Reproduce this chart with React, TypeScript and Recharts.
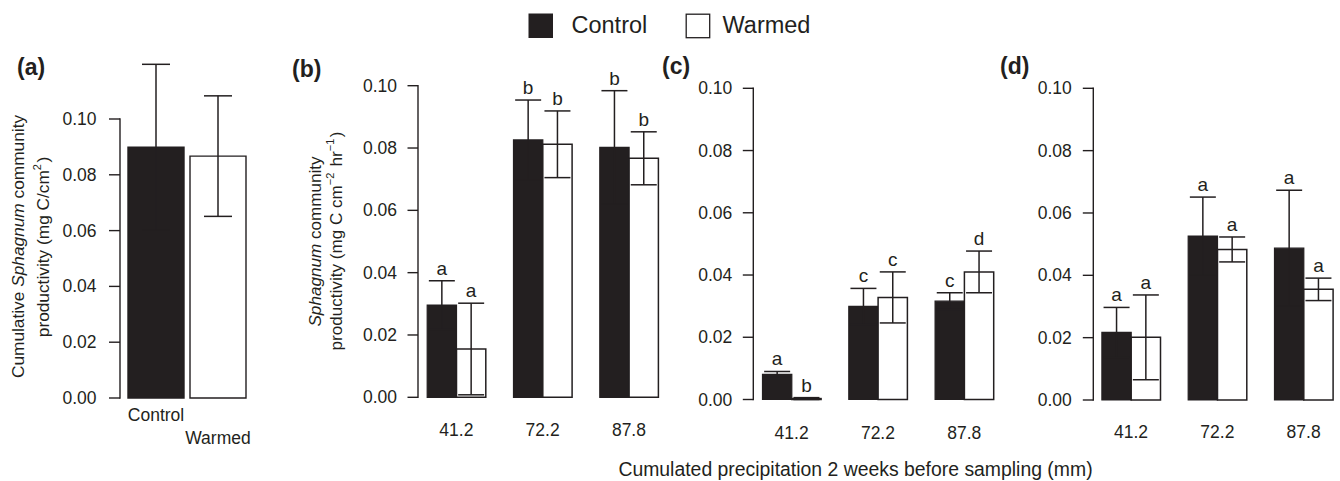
import React from 'react';
import { BarChart, Bar, XAxis, YAxis, ErrorBar, LabelList, Cell } from 'recharts';

const INK = '#231f20';
const FONT = '"Liberation Sans", Arial, Helvetica, sans-serif';

// (a) cumulative productivity over the season
const treatments = ['Control', 'Warmed'];
const cumulativeProd = [0.0899, 0.0867];
const cumulativeErr = [0.0297, 0.0216];

// (b)-(d) hourly productivity by cumulated precipitation (mm)
const precipitation = ['41.2', '72.2', '87.8'];

const controlB = [0.0296, 0.0826, 0.0802];
const controlErrB = [0.0078, 0.0128, 0.0182];
const warmedB = [0.0155, 0.0812, 0.0767];
const warmedErrB = [0.0147, 0.0107, 0.0085];
const controlLettersB = ['a', 'b', 'b'];
const warmedLettersB = ['a', 'b', 'b'];

const controlC = [0.0081, 0.0299, 0.0316];
const controlErrC = [0.0009, 0.0058, 0.0027];
const warmedC = [0.0003, 0.0328, 0.041];
const warmedErrC = [0.0003, 0.0082, 0.0067];
const controlLettersC = ['a', 'c', 'c'];
const warmedLettersC = ['b', 'c', 'd'];

const controlD = [0.0217, 0.0526, 0.0487];
const controlErrD = [0.008, 0.0125, 0.0186];
const warmedD = [0.0201, 0.0483, 0.0355];
const warmedErrD = [0.0136, 0.004, 0.0036];
const controlLettersD = ['a', 'a', 'a'];
const warmedLettersD = ['a', 'a', 'a'];

const yTicks = [0, 0.02, 0.04, 0.06, 0.08, 0.1];

type PrecipRow = {
  precip: string;
  control: number;
  controlErr: number;
  controlLetter: string;
  warmed: number;
  warmedErr: number;
  warmedLetter: string;
};

function buildRows(
  control: number[],
  controlErr: number[],
  warmed: number[],
  warmedErr: number[],
  controlLetters: string[],
  warmedLetters: string[]
): PrecipRow[] {
  return precipitation.map((p, i) => ({
    precip: p,
    control: control[i],
    controlErr: controlErr[i],
    controlLetter: controlLetters[i],
    warmed: warmed[i],
    warmedErr: warmedErr[i],
    warmedLetter: warmedLetters[i]
  }));
}

const rowsB = buildRows(controlB, controlErrB, warmedB, warmedErrB, controlLettersB, warmedLettersB);
const rowsC = buildRows(controlC, controlErrC, warmedC, warmedErrC, controlLettersC, warmedLettersC);
const rowsD = buildRows(controlD, controlErrD, warmedD, warmedErrD, controlLettersD, warmedLettersD);

const cumulativeRows = treatments.map((t, i) => ({ treatment: t, value: cumulativeProd[i], err: cumulativeErr[i] }));

// layout
const CHART_W = 1360;
const CHART_H = 481;
const Y_AXIS_W = 60;
const X_AXIS_H = 30;
const FS = 17.5;
const LETTER_FS = 19;

type Frame = {
  top: number;
  bottom: number;
  left: number;
  band: number;
  yMax: number;
  axisOffset: number;
  tickLen: number;
  labelGap: number;
  tickDy: number;
};

const frameA: Frame = { top: 63.2, bottom: 398, left: 125, band: 62, yMax: 0.12, axisOffset: -5, tickLen: 11, labelGap: 12.5, tickDy: 0 };
const frameB: Frame = { top: 85.7, bottom: 397.3, left: 413.2, band: 86.3, yMax: 0.1, axisOffset: 4.8, tickLen: 10.5, labelGap: 10.5, tickDy: 33 };
const frameC: Frame = { top: 88.3, bottom: 399.5, left: 748.5, band: 86.3, yMax: 0.1, axisOffset: 4.8, tickLen: 10.5, labelGap: 10.5, tickDy: 33.5 };
const frameD: Frame = { top: 88.3, bottom: 400, left: 1087.9, band: 86.3, yMax: 0.1, axisOffset: 5.4, tickLen: 10.5, labelGap: 11, tickDy: 32 };

function margins(frame: Frame, n: number) {
  return {
    top: frame.top,
    bottom: CHART_H - frame.bottom - X_AXIS_H,
    left: frame.left - Y_AXIS_W,
    right: CHART_W - frame.left - frame.band * n
  };
}

// y axis drawn by hand so the line stops at 0.10 and sits off the band edge
function yTick(frame: Frame) {
  const span = (frame.bottom - frame.top) * (yTicks[yTicks.length - 1] / frame.yMax);
  return (props: any) => {
    const { x, y, payload } = props;
    const ax = x + frame.axisOffset;
    return (
      <g>
        <line x1={ax - frame.tickLen} x2={ax} y1={y} y2={y} stroke={INK} strokeWidth={1.4} />
        {payload.value === 0 && <line x1={ax} x2={ax} y1={y + 0.7} y2={y - span - 0.7} stroke={INK} strokeWidth={1.4} />}
        <text
          x={ax - frame.tickLen - frame.labelGap}
          y={y}
          textAnchor="end"
          dominantBaseline="central"
          fontFamily={FONT}
          fontSize={FS}
          fill={INK}
        >
          {Number(payload.value).toFixed(2)}
        </text>
      </g>
    );
  };
}

function precipTick(dy: number) {
  return (props: any) => (
    <text x={props.x} y={props.y + dy} textAnchor="middle" dominantBaseline="central" fontFamily={FONT} fontSize={FS} fill={INK}>
      {props.payload.value}
    </text>
  );
}

function treatmentTick(props: any) {
  const dy = props.index === 0 ? 17 : 40;
  return (
    <text x={props.x} y={props.y + dy} textAnchor="middle" dominantBaseline="central" fontFamily={FONT} fontSize={FS} fill={INK}>
      {props.payload.value}
    </text>
  );
}

function letterContent(rows: PrecipRow[], valueKey: 'control' | 'warmed', errKey: 'controlErr' | 'warmedErr') {
  return (props: any) => {
    const vb = props.viewBox ?? props;
    const x = Number(vb.x ?? props.x);
    const y = Number(vb.y ?? props.y);
    const w = Number(vb.width ?? props.width);
    const h = Number(vb.height ?? props.height);
    const row = rows[props.index];
    if (!row) return null;
    const v = row[valueKey];
    const e = row[errKey];
    const rectTop = Math.min(y, y + h);
    const perUnit = v > 0 ? Math.abs(h) / v : 0;
    const top = rectTop - e * perUnit;
    return (
      <text x={x + w / 2} y={top - 6} textAnchor="middle" fontFamily={FONT} fontSize={LETTER_FS} fill={INK}>
        {props.value}
      </text>
    );
  };
}

function PrecipPanel({ rows, frame }: { rows: PrecipRow[]; frame: Frame }) {
  return (
    <div style={{ position: 'absolute', left: 0, top: 0 }}>
      <BarChart width={CHART_W} height={CHART_H} data={rows} barGap={0} margin={margins(frame, rows.length)}>
        <XAxis
          dataKey="precip"
          type="category"
          height={X_AXIS_H}
          axisLine={false}
          tickLine={false}
          tickSize={0}
          tickMargin={0}
          interval={0}
          tick={precipTick(frame.tickDy)}
        />
        <YAxis
          type="number"
          domain={[0, frame.yMax]}
          ticks={yTicks}
          width={Y_AXIS_W}
          axisLine={false}
          tickLine={false}
          tickSize={0}
          tickMargin={0}
          interval={0}
          tick={yTick(frame)}
        />
        <Bar dataKey="control" barSize={29.3} fill={INK} stroke={INK} strokeWidth={1.2} isAnimationActive={false}>
          <ErrorBar dataKey="controlErr" width={13} stroke={INK} strokeWidth={1.5} direction="y" />
          <LabelList dataKey="controlLetter" content={letterContent(rows, 'control', 'controlErr')} />
        </Bar>
        <Bar dataKey="warmed" barSize={29.3} fill="#ffffff" stroke={INK} strokeWidth={1.5} isAnimationActive={false}>
          <ErrorBar dataKey="warmedErr" width={13} stroke={INK} strokeWidth={1.5} direction="y" />
          <LabelList dataKey="warmedLetter" content={letterContent(rows, 'warmed', 'warmedErr')} />
        </Bar>
      </BarChart>
    </div>
  );
}

function CumulativePanel() {
  return (
    <div style={{ position: 'absolute', left: 0, top: 0 }}>
      <BarChart width={CHART_W} height={CHART_H} data={cumulativeRows} margin={margins(frameA, cumulativeRows.length)}>
        <XAxis
          dataKey="treatment"
          type="category"
          height={X_AXIS_H}
          axisLine={false}
          tickLine={false}
          tickSize={0}
          tickMargin={0}
          interval={0}
          tick={treatmentTick}
        />
        <YAxis
          type="number"
          domain={[0, frameA.yMax]}
          ticks={yTicks}
          width={Y_AXIS_W}
          axisLine={false}
          tickLine={false}
          tickSize={0}
          tickMargin={0}
          interval={0}
          tick={yTick(frameA)}
        />
        <Bar dataKey="value" barSize={56} fill={INK} stroke={INK} strokeWidth={1.4} isAnimationActive={false}>
          {cumulativeRows.map((r, i) => (
            <Cell key={r.treatment} fill={i === 0 ? INK : '#ffffff'} />
          ))}
          <ErrorBar dataKey="err" width={14} stroke={INK} strokeWidth={1.5} direction="y" />
        </Bar>
      </BarChart>
    </div>
  );
}

function Annotations() {
  const txt = { fontFamily: FONT, fill: INK };
  const sup = (s: string) => (
    <>
      <tspan dy={-6} fontSize={11}>{s}</tspan>
      <tspan dy={6}>{'\u200a'}</tspan>
    </>
  );
  return (
    <svg width={1340} height={481} style={{ position: 'absolute', left: 0, top: 0, pointerEvents: 'none' }}>
      {/* legend */}
      <rect x={528.5} y={13.5} width={24.5} height={24.5} fill={INK} />
      <text x={571.5} y={33.3} fontSize={23.5} {...txt}>Control</text>
      <rect x={686.2} y={14.2} width={23.5} height={23.5} fill="#fff" stroke={INK} strokeWidth={1.3} />
      <text x={722.5} y={33.3} fontSize={23.5} {...txt}>Warmed</text>

      {/* panel tags */}
      <text x={17} y={66.5} dominantBaseline="central" fontSize={23} fontWeight="bold" {...txt}>(a)</text>
      <text x={292} y={68.5} dominantBaseline="central" fontSize={23} fontWeight="bold" {...txt}>(b)</text>
      <text x={662} y={66} dominantBaseline="central" fontSize={23} fontWeight="bold" {...txt}>(c)</text>
      <text x={1000} y={66} dominantBaseline="central" fontSize={23} fontWeight="bold" {...txt}>(d)</text>

      {/* y titles */}
      <text transform="translate(18,246.5) rotate(-90)" textAnchor="middle" dominantBaseline="central" fontSize={17.3} {...txt}>
        Cumulative <tspan fontStyle="italic">Sphagnum</tspan> community
      </text>
      <text transform="translate(43,247) rotate(-90)" textAnchor="middle" dominantBaseline="central" fontSize={17.3} {...txt}>
        productivity (mg C/cm{sup('2')})
      </text>
      <text transform="translate(315,241.5) rotate(-90)" textAnchor="middle" dominantBaseline="central" fontSize={17.1} {...txt}>
        <tspan fontStyle="italic">Sphagnum</tspan> community
      </text>
      <text transform="translate(336,241) rotate(-90)" textAnchor="middle" dominantBaseline="central" fontSize={17.1} {...txt}>
        productivity (mg C cm{sup('\u22122')} hr{sup('\u22121')})
      </text>

      {/* shared x title */}
      <text x={855.5} y={476} textAnchor="middle" fontSize={19.4} {...txt}>
        Cumulated precipitation 2 weeks before sampling (mm)
      </text>
    </svg>
  );
}

export default function App() {
  return (
    <div style={{ position: 'absolute', left: 0, top: 0, width: 1340, height: 481, overflow: 'hidden', background: '#ffffff' }}>
      <CumulativePanel />
      <PrecipPanel rows={rowsB} frame={frameB} />
      <PrecipPanel rows={rowsC} frame={frameC} />
      <PrecipPanel rows={rowsD} frame={frameD} />
      <Annotations />
    </div>
  );
}
